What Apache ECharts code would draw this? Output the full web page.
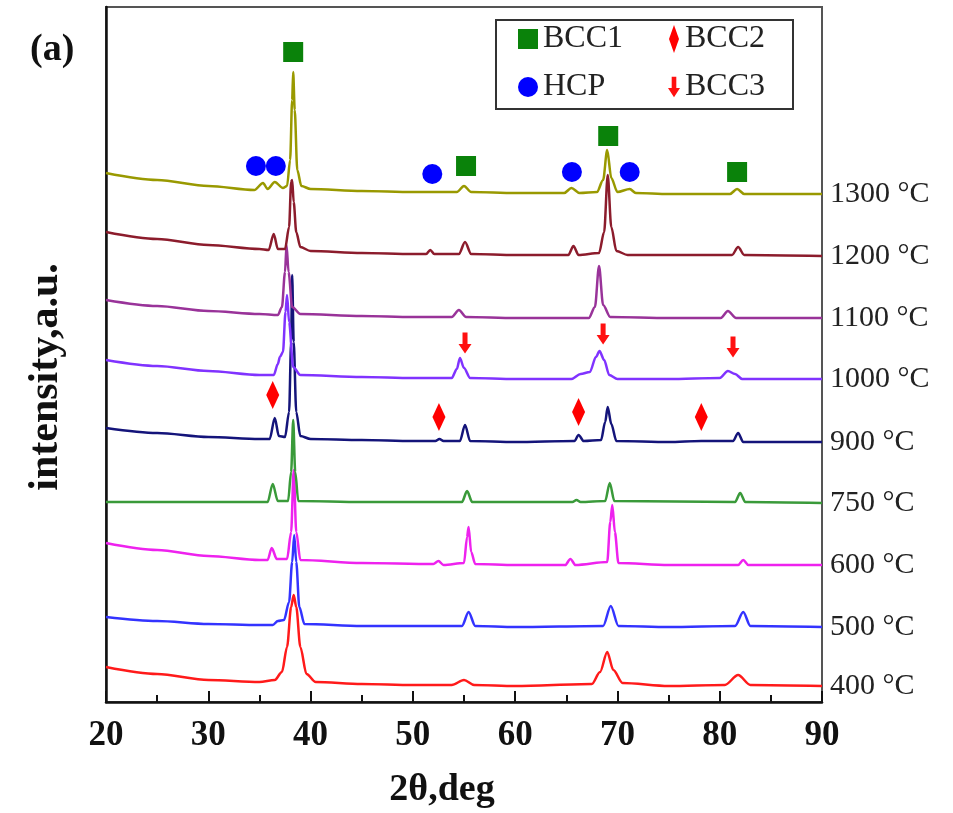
<!DOCTYPE html>
<html>
<head>
<meta charset="utf-8">
<script src="https://cdn.jsdelivr.net/npm/echarts@6/dist/echarts.min.js"></script>
<style>html,body{margin:0;padding:0;background:#fff;}#c{width:953px;height:813px;}</style>
</head>
<body>
<div id="c"></div>
<script>
// ---- data (2θ in deg, intensity in a.u., traces stacked with offsets) ----
const xTicks = [20, 30, 40, 50, 60, 70, 80, 90];
const tempLabels = ['400 °C','500 °C','600 °C','750 °C','900 °C','1000 °C','1100 °C','1200 °C','1300 °C'];
const traceColors = ['#ff1a1a','#3333ff','#ee22ee','#3a9a3a','#14147a','#8033ff','#993399','#8c1c2c','#999900'];

const t400 = [[20,35],[25,28],[30,22],[35,20],[36.5,22],[37.2,30],[37.7,55],[38.1,95],[38.35,107],[38.6,95],[39.0,55],[39.6,28],[40.5,20],[45,18],[50,17],[53.8,17],[55.0,22],[56.0,17],[60,16],[67.5,18],[68.3,30],[69.0,50],[69.6,32],[70.5,19],[75,16],[80.5,17],[81.8,27],[83.0,17],[90,16]];
const t500 = [[20,85],[25,81],[30,78],[35,77],[36.3,77],[36.8,81],[37.4,82],[37.9,100],[38.2,140],[38.4,167],[38.6,140],[38.9,95],[39.4,78],[45,76],[54.8,76],[55.45,90],[56.1,76],[60,75],[68.6,76],[69.35,96],[70.1,76],[75,75],[81.5,76],[82.3,90],[83.0,76],[90,75]];
const t600 = [[20,159],[25,152],[30,146],[35,142],[35.8,142],[36.2,154],[36.7,143],[37.7,143],[38.1,170],[38.35,232],[38.6,170],[39.0,142],[45,139],[52.0,138],[52.5,141],[53.0,137],[55.0,139],[55.3,165],[55.45,175],[55.7,150],[56.1,138],[60,137],[64.9,137],[65.4,143],[65.9,137],[69.0,140],[69.3,180],[69.5,197],[69.75,170],[70.1,139],[75,137],[81.8,137],[82.3,142],[82.8,137],[90,137]];
const t750 = [[20,200],[30,200],[35.8,200],[36.3,218],[36.8,201],[37.8,201],[38.1,230],[38.3,282],[38.5,230],[38.8,201],[45,200],[54.8,200],[55.3,211],[55.8,200],[65.6,200],[66.0,202],[66.4,200],[68.8,201],[69.25,219],[69.7,201],[81.5,200],[82.0,209],[82.5,200],[90,199]];
const t900 = [[20,274],[25,269],[30,265],[35,263],[36.0,263],[36.5,284],[36.9,266],[37.5,265],[37.9,290],[38.1,360],[38.2,427],[38.35,360],[38.6,290],[39.0,266],[40,263],[45,262],[50,261],[52.2,261],[52.6,263],[53.0,261],[54.6,261],[55.1,277],[55.6,261],[60,260],[65.8,261],[66.2,267],[66.7,261],[68.4,262],[68.8,280],[69.05,295],[69.4,278],[69.9,261],[75,260],[78.2,261],[81.3,261],[81.8,269],[82.3,260],[90,260]];
const t1000 = [[20,342],[25,336],[30,331],[35,327],[36.4,327],[36.8,338],[37.0,345],[37.3,350],[37.55,390],[37.7,407],[37.9,380],[38.3,335],[39,327],[45,325],[50,324],[53.8,324],[54.3,333],[54.6,344],[55.0,334],[55.6,324],[60,323],[65.5,323],[66.4,328],[67.3,330],[67.9,345],[68.25,351],[68.7,342],[69.2,327],[70,323],[75,323],[80.0,324],[80.8,331],[81.5,328],[82.2,323],[90,323]];
const t1100 = [[20,402],[25,396],[30,391],[35,388],[36.8,387],[37.2,395],[37.5,430],[37.65,457],[37.85,430],[38.2,395],[39,388],[45,386],[50,385],[53.8,385],[54.5,392],[55.2,385],[60,384],[67.2,384],[67.8,395],[68.2,436],[68.6,397],[69.3,385],[75,384],[80.1,384],[80.8,391],[81.6,384],[90,384]];
const t1200 = [[20,470],[25,463],[30,457],[35,453],[35.9,452],[36.4,468],[36.8,453],[37.5,453],[37.9,475],[38.1,520],[38.2,522],[38.35,500],[38.6,470],[39.0,455],[40,451],[45,449],[50,448],[51.3,448],[51.7,452],[52.1,448],[54.5,448],[55.1,460],[55.7,448],[60,447],[65.2,447],[65.7,456],[66.2,447],[68.2,449],[68.7,470],[69.05,527],[69.4,475],[69.9,451],[71,447],[75,447],[81.2,447],[81.8,455],[82.4,447],[90,446]];
const t1300 = [[20,529],[25,522],[30,516],[34.5,512],[35.35,519],[35.8,513],[36.5,520],[37.3,514],[37.7,516],[38.0,542],[38.2,602],[38.3,630],[38.45,592],[38.7,532],[39.1,516],[40,513],[45,511],[50,510],[54.3,510],[55.0,516],[55.7,510],[60,509],[64.8,509],[65.5,514],[66.3,509],[68.0,510],[68.6,522],[69.0,552],[69.4,524],[70.0,510],[71.2,513],[71.8,509],[75,508],[81,508],[81.7,513],[82.4,508],[90,508]];
const traces = [t400, t500, t600, t750, t900, t1000, t1100, t1200, t1300];

// phase markers
const bcc1Pts = [[38.3,650],[55.2,536],[69.1,566],[81.7,530]];
const hcpPts  = [[34.66,536],[36.6,536],[51.9,528],[65.55,530],[71.2,530]];
const bcc2Pts = [[36.3,307],[52.55,285],[66.2,290],[78.2,285]];
const bcc3Pts = [[55.1,359],[68.6,368],[81.3,355]];

const serif = '"Times New Roman","Liberation Serif",serif';
const arrowPath = 'path://M4,0 L9,0 L9,12 L13,12 L6.5,22 L0,12 L4,12 Z';
const diamondPath = 'path://M5,0 L10,14 L5,28 L0,14 Z';

const series = traces.map((d, i) => ({
  name: tempLabels[i],
  type: 'line',
  data: d,
  showSymbol: false,
  symbol: 'none',
  smooth: 0.3,
  smoothMonotone: 'x',
  lineStyle: { color: traceColors[i], width: 2.5 },
  itemStyle: { color: traceColors[i] },
  z: 2,
  endLabel: {
    show: true, formatter: '{a}', distance: 8,
    fontSize: 30, color: '#222', fontFamily: serif
  }
}));
series.push(
  { name: 'BCC1', type: 'scatter', data: bcc1Pts, symbol: 'rect', symbolSize: 20, itemStyle: { color: '#0a820a', opacity: 1 }, z: 5 },
  { name: 'HCP', type: 'scatter', data: hcpPts, symbol: 'circle', symbolSize: 20, itemStyle: { color: '#0000ff', opacity: 1 }, z: 5 },
  { name: 'BCC2', type: 'scatter', data: bcc2Pts, symbol: diamondPath, symbolSize: [13, 28], itemStyle: { color: '#ff0000', opacity: 1 }, z: 5 },
  { name: 'BCC3', type: 'scatter', data: bcc3Pts, symbol: arrowPath, symbolSize: [13, 21], itemStyle: { color: '#ff1010', opacity: 1 }, z: 5 }
);

const chart = echarts.init(document.getElementById('c'));
chart.setOption({
  animation: false,
  backgroundColor: '#fff',
  grid: { left: 106, right: 131, top: 7, bottom: 111, show: true, borderColor: '#555', borderWidth: 2, backgroundColor: 'transparent' },
  xAxis: {
    type: 'value', min: xTicks[0], max: xTicks[xTicks.length - 1], interval: 10,
    axisLine: { lineStyle: { color: '#111', width: 2.5 } },
    axisTick: { inside: true, length: 11, lineStyle: { color: '#111', width: 2 } },
    minorTick: { show: true, splitNumber: 2, length: 7, lineStyle: { color: '#111', width: 2 } },
    splitLine: { show: false },
    axisLabel: { fontSize: 35, fontWeight: 'bold', color: '#111', fontFamily: serif, margin: 16 }
  },
  yAxis: {
    type: 'value', min: 0, max: 695,
    axisLine: { show: true, lineStyle: { color: '#111', width: 2.5 } },
    axisTick: { show: false }, axisLabel: { show: false }, splitLine: { show: false }
  },
  legend: [
    { data: ['BCC1', 'HCP'], orient: 'vertical', left: 518, top: 22, itemWidth: 20, itemHeight: 20, itemGap: 14,
      textStyle: { fontSize: 32, fontFamily: serif, color: '#222', lineHeight: 34 }, selectedMode: false, padding: 0 },
    { data: [{ name: 'BCC2', icon: diamondPath }, { name: 'BCC3', icon: arrowPath }], orient: 'vertical', left: 668, top: 22, itemWidth: 12, itemHeight: 28, itemGap: 14,
      textStyle: { fontSize: 32, fontFamily: serif, color: '#222', lineHeight: 34 }, selectedMode: false, padding: 0 }
  ],
  graphic: [
    { type: 'rect', shape: { x: 496, y: 20, width: 297, height: 89 }, style: { fill: 'transparent', stroke: '#333', lineWidth: 2 }, z: 10 },
    { type: 'text', left: 30, top: 31, style: { text: '(a)', font: 'bold 38px ' + serif, fill: '#111' } },
    { type: 'text', x: 442, y: 790, style: { text: '2θ,deg', font: 'bold 38px ' + serif, fill: '#111', align: 'center', verticalAlign: 'middle' } },
    { type: 'text', x: 46, y: 377, rotation: Math.PI / 2, style: { text: 'intensity,a.u.', font: 'bold 42px ' + serif, fill: '#111', align: 'center', verticalAlign: 'middle' } }
  ],
  series: series
});
</script>
</body>
</html>
